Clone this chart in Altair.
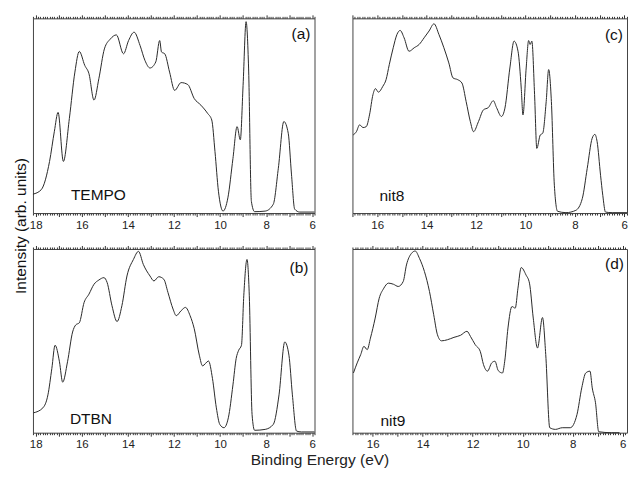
import altair as alt
import pandas as pd

FONT = "Liberation Sans"

# ---- data (binding energy eV, normalised intensity) ----
aE = [18.12,17.76,17.40,17.19,17.03,16.80,16.54,16.30,16.11,15.87,15.69,15.47,15.26,15.02,14.76,14.50,14.19,13.97,13.73,13.47,13.26,13.04,12.79,12.62,12.54,12.40,12.19,11.97,11.69,11.40,11.12,10.83,10.54,10.36,10.22,10.07,9.87,9.66,9.44,9.26,9.12,9.00,8.87,8.76,8.64,8.50,8.04,7.69,7.47,7.23,7.04,6.90,6.76,6.54,5.90]
aI = [0.097,0.12,0.265,0.42,0.517,0.265,0.486,0.724,0.83,0.758,0.716,0.58,0.69,0.843,0.894,0.915,0.818,0.886,0.929,0.86,0.784,0.745,0.776,0.886,0.827,0.818,0.724,0.63,0.67,0.66,0.588,0.554,0.512,0.478,0.316,0.112,0.01,0.078,0.28,0.444,0.376,0.656,0.983,0.74,0.06,0.007,0.01,0.045,0.23,0.47,0.41,0.2,0.02,0.005,0.005]

bE = [18.10,17.69,17.47,17.30,17.16,16.97,16.83,16.62,16.40,16.26,16.11,15.90,15.69,15.47,15.26,15.04,14.90,14.69,14.47,14.26,14.04,13.76,13.54,13.33,13.04,12.87,12.66,12.44,12.26,12.04,11.90,11.69,11.50,11.30,11.12,10.90,10.76,10.50,10.33,10.16,10.01,9.83,9.64,9.44,9.30,9.19,9.07,8.97,8.83,8.73,8.61,8.50,8.04,7.69,7.44,7.19,7.01,6.86,6.68,6.47,5.90]
bI = [0.108,0.135,0.206,0.35,0.476,0.386,0.275,0.386,0.548,0.587,0.598,0.709,0.754,0.808,0.831,0.844,0.817,0.691,0.605,0.691,0.853,0.943,0.987,0.916,0.853,0.826,0.849,0.835,0.763,0.673,0.637,0.664,0.682,0.637,0.566,0.422,0.364,0.39,0.296,0.135,0.045,0.027,0.081,0.26,0.404,0.449,0.476,0.745,0.943,0.745,0.099,0.013,0.018,0.045,0.206,0.494,0.422,0.206,0.009,0.004,0.004]

cE = [16.97,16.84,16.71,16.57,16.44,16.31,16.17,16.07,15.95,15.77,15.64,15.51,15.35,15.20,15.07,14.91,14.71,14.50,14.30,14.10,13.90,13.70,13.50,13.30,13.10,12.93,12.74,12.57,12.40,12.23,12.10,11.90,11.70,11.50,11.30,11.17,10.97,10.83,10.63,10.46,10.30,10.17,10.10,9.97,9.87,9.81,9.74,9.63,9.54,9.40,9.30,9.16,9.06,8.95,8.83,8.70,8.36,7.96,7.70,7.50,7.30,7.19,7.10,6.96,6.87,6.76,6.49,5.89]
cI = [0.401,0.418,0.453,0.439,0.444,0.504,0.608,0.639,0.621,0.651,0.685,0.762,0.849,0.917,0.938,0.9,0.831,0.849,0.866,0.9,0.935,0.972,0.917,0.849,0.771,0.694,0.685,0.668,0.573,0.47,0.418,0.47,0.53,0.542,0.577,0.542,0.496,0.539,0.745,0.883,0.831,0.642,0.504,0.745,0.886,0.866,0.883,0.608,0.332,0.401,0.41,0.573,0.737,0.573,0.143,0.009,0.002,0.014,0.074,0.229,0.384,0.404,0.367,0.194,0.091,0.005,0.002,0.002]

dE = [16.77,16.62,16.48,16.35,16.22,16.09,15.90,15.74,15.57,15.37,15.17,14.98,14.78,14.65,14.45,14.30,14.13,13.93,13.73,13.56,13.41,13.25,13.01,12.75,12.49,12.23,12.09,11.90,11.70,11.57,11.41,11.24,11.11,10.98,10.81,10.72,10.59,10.43,10.30,10.19,10.06,9.87,9.73,9.58,9.41,9.21,9.08,8.92,8.69,8.42,8.10,7.83,7.64,7.48,7.31,7.22,7.09,6.96,6.46,6.13]
dI = [0.325,0.38,0.425,0.47,0.452,0.515,0.624,0.732,0.783,0.814,0.808,0.796,0.823,0.913,0.976,0.989,0.949,0.877,0.769,0.642,0.533,0.5,0.506,0.519,0.53,0.552,0.524,0.479,0.443,0.371,0.335,0.38,0.389,0.338,0.325,0.389,0.57,0.687,0.678,0.787,0.899,0.859,0.814,0.624,0.461,0.627,0.425,0.027,0.018,0.027,0.027,0.099,0.244,0.325,0.335,0.244,0.163,0.005,0.0,0.0]

names = ["TEMPO", "DTBN", "nit8", "nit9"]
tags = ["(a)", "(b)", "(c)", "(d)"]
Y_TITLE = "Intensity (arb. units)"
X_TITLE = "Binding Energy (eV)"

LINE = "#2a2a2a"
FRAME = "#444444"


def label(text, pos, align="left", angle=0, baseline="alphabetic", size=15.5):
    kw = dict(align=align, baseline=baseline, fontSize=size, font=FONT, color="#111111")
    if angle:
        kw["angle"] = angle
    return alt.Chart(pd.DataFrame({"t": [text]})).mark_text(**kw).encode(
        text="t:N", x=alt.value(pos[0]), y=alt.value(pos[1]))


def panel(E, I, dom, w, h, name, tag, name_pos, tag_pos, ytitle=None, xtitle=None):
    df = pd.DataFrame({"E": E, "I": I})
    lo, hi = dom
    vals = [round(k / 10, 1) for k in range(int(lo * 10) - 1, int(hi * 10) + 2)]
    vals = [v for v in vals if lo <= v <= hi]
    tsize = {"condition": {"test": "datum.value % 1 === 0", "value": 3.5}, "value": 2}
    xscale = alt.Scale(domain=[lo, hi], reverse=True, nice=False, zero=False)
    yscale = alt.Scale(domain=[0, 1], nice=False, zero=False)

    bkw = dict(orient="bottom", values=vals, tickSize=tsize,
               labelExpr="datum.value % 2 === 0 ? format(datum.value, 'd') : ''",
               labelOverlap=False, labelFlush=False, labelPadding=2.5,
               domain=False, grid=False)
    if xtitle:
        bkw.update(title=xtitle, titleX=287, titleY=32, titleBaseline="alphabetic",
                   titleAlign="center", titleFontSize=15.5, titleFontWeight="normal",
                   titleColor="#222222", titleFont=FONT)
    else:
        bkw.update(title="")
    tkw = dict(orient="top", values=vals, tickSize=tsize, labels=False,
               domain=False, grid=False, title="")

    base = alt.Chart(df)
    line = base.mark_line(color=LINE, strokeWidth=1, interpolate="monotone").encode(
        x=alt.X("E:Q", scale=xscale, axis=alt.Axis(**bkw)),
        y=alt.Y("I:Q", scale=yscale, axis=None))
    top = base.mark_line(opacity=0).encode(
        x=alt.X("E:Q", scale=xscale, axis=alt.Axis(**tkw)),
        y=alt.Y("I:Q", scale=yscale, axis=None))
    layers = [line, top, label(name, name_pos), label(tag, tag_pos, align="right")]
    if ytitle:
        layers.append(label(ytitle, (-12, 208), align="center", angle=270, baseline="middle"))
    return alt.layer(*layers).resolve_axis(x="independent").properties(width=w, height=h)


pa = panel(aE, aI, (5.90, 18.12), 282, 195, names[0], tags[0], (38, 182), (278, 21), ytitle=Y_TITLE)
pc = panel(cE, cI, (5.89, 17.00), 275, 195, names[2], tags[2], (27, 183), (271, 22))
pb = panel(bE, bI, (5.90, 18.12), 282, 184, names[1], tags[1], (37, 175), (276, 24), xtitle=X_TITLE)
pd_ = panel(dE, dI, (5.83, 16.81), 275, 184, names[3], tags[3], (28, 177), (272, 20))

chart = alt.concat(
    pa, pc, pb, pd_, columns=2, bounds="flush",
    spacing=alt.RowColnumber(row=36, column=38)
).properties(
    padding={"left": 5, "top": 5, "right": 0, "bottom": 0}
).configure_view(stroke=FRAME, strokeWidth=1).configure_axis(
    labelFont=FONT, labelFontSize=11.5, labelColor="#222222", tickColor="#333333", tickWidth=1
)

chart.save("out.html", embed_options={"renderer": "svg", "actions": False})
